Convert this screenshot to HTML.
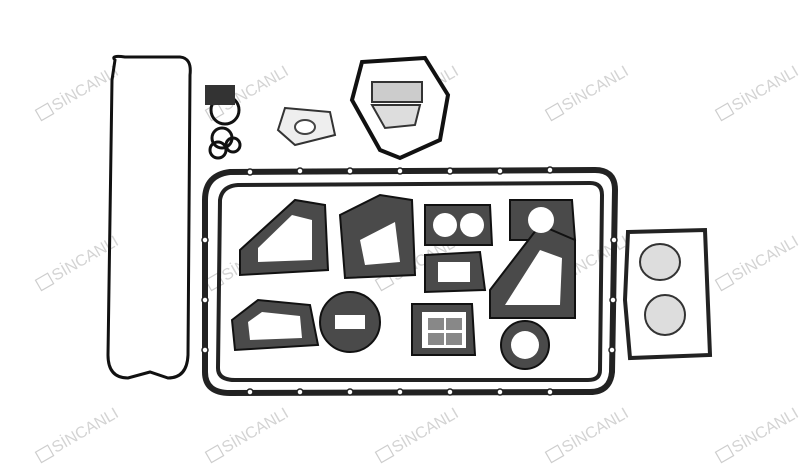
<!DOCTYPE html>
<html><head><meta charset="utf-8"><style>
html,body{margin:0;padding:0;background:#fff;width:800px;height:470px;overflow:hidden}
</style></head><body>
<svg width="800" height="470" viewBox="0 0 800 470" xmlns="http://www.w3.org/2000/svg">
<rect width="800" height="470" fill="#fff"/>
<defs>
<g id="wm">
<g transform="rotate(-30)">
<rect x="0" y="-9" width="14" height="12" fill="none" stroke="#c8c8c8" stroke-width="1.2"/>
<text x="17" y="2" font-family="Liberation Sans, sans-serif" font-size="16" fill="#cfcfcf">SİNCANLI</text>
</g>
</g>
</defs>
<g opacity="0.9">
<use href="#wm" x="40" y="118"/><use href="#wm" x="210" y="118"/><use href="#wm" x="380" y="118"/><use href="#wm" x="550" y="118"/><use href="#wm" x="720" y="118"/>
<use href="#wm" x="40" y="288"/><use href="#wm" x="210" y="288"/><use href="#wm" x="380" y="288"/><use href="#wm" x="550" y="288"/><use href="#wm" x="720" y="288"/>
<use href="#wm" x="40" y="460"/><use href="#wm" x="210" y="460"/><use href="#wm" x="380" y="460"/><use href="#wm" x="550" y="460"/><use href="#wm" x="720" y="460"/>
</g>
<!-- O-ring -->
<path d="M115 60 Q110 55 125 57 L180 57 Q192 58 190 75 L188 355 Q187 378 168 378 L150 372 L128 378 Q108 378 108 355 L112 80 Z" fill="none" stroke="#111" stroke-width="3"/>
<g fill="none" stroke="#111" stroke-width="3">
<circle cx="225" cy="110" r="14"/><circle cx="222" cy="138" r="10"/><circle cx="218" cy="150" r="8"/><circle cx="233" cy="145" r="7"/>
</g>
<rect x="205" y="85" width="30" height="20" fill="#333"/>
<path d="M285 108 L330 112 L335 135 L295 145 L278 130 Z" fill="#eee" stroke="#333" stroke-width="2"/>
<ellipse cx="305" cy="127" rx="10" ry="7" fill="#fff" stroke="#444" stroke-width="2"/>
<path d="M362 62 L425 58 L448 95 L440 140 L400 158 L380 150 L352 100 Z" fill="#fff" stroke="#111" stroke-width="4"/>
<rect x="372" y="82" width="50" height="20" fill="#ccc" stroke="#333" stroke-width="2"/>
<path d="M372 105 L420 105 L415 125 L385 128 Z" fill="#ddd" stroke="#333" stroke-width="2"/>
<path d="M230 172 L595 170 Q615 170 615 190 L612 372 Q610 392 590 392 L230 393 Q205 393 205 372 L205 200 Q205 175 230 172 Z" fill="none" stroke="#222" stroke-width="6"/>
<path d="M238 185 L590 183 Q602 183 602 195 L600 370 Q600 380 588 380 L235 380 Q218 380 218 368 L220 200 Q222 186 238 185 Z" fill="none" stroke="#222" stroke-width="4"/>
<g fill="#fff" stroke="#222" stroke-width="1.5">
<circle cx="250" cy="172" r="3"/><circle cx="300" cy="171" r="3"/><circle cx="350" cy="171" r="3"/><circle cx="400" cy="171" r="3"/><circle cx="450" cy="171" r="3"/><circle cx="500" cy="171" r="3"/><circle cx="550" cy="170" r="3"/>
<circle cx="250" cy="392" r="3"/><circle cx="300" cy="392" r="3"/><circle cx="350" cy="392" r="3"/><circle cx="400" cy="392" r="3"/><circle cx="450" cy="392" r="3"/><circle cx="500" cy="392" r="3"/><circle cx="550" cy="392" r="3"/>
<circle cx="205" cy="240" r="3"/><circle cx="205" cy="300" r="3"/><circle cx="205" cy="350" r="3"/><circle cx="614" cy="240" r="3"/><circle cx="613" cy="300" r="3"/><circle cx="612" cy="350" r="3"/>
</g>
<g fill="#4a4a4a" stroke="#111" stroke-width="2">
<path d="M240 250 L295 200 L325 205 L328 270 L240 275 Z"/>
<path d="M340 215 L380 195 L412 200 L415 275 L345 278 Z"/>
<path d="M425 205 L490 205 L492 245 L425 245 Z"/>
<path d="M510 200 L572 200 L575 240 L510 240 Z"/>
<path d="M425 255 L480 252 L485 290 L425 292 Z"/>
<path d="M490 290 L540 225 L575 240 L575 318 L490 318 Z"/>
<path d="M232 320 L258 300 L310 305 L318 345 L235 350 Z"/>
<circle cx="350" cy="322" r="30"/>
<path d="M412 304 L472 304 L475 355 L412 355 Z"/>
<circle cx="525" cy="345" r="24"/>
</g>
<g fill="#fff" stroke="none">
<path d="M258 248 L292 215 L312 220 L312 260 L258 262 Z"/>
<circle cx="445" cy="225" r="12"/><circle cx="472" cy="225" r="12"/>
<circle cx="541" cy="220" r="13"/>
<path d="M438 262 L470 262 L470 282 L438 282 Z"/>
<path d="M505 305 L540 250 L562 258 L560 305 Z"/>
<path d="M248 322 L262 312 L300 316 L302 338 L250 340 Z"/>
<rect x="335" y="315" width="30" height="14"/>
<rect x="422" y="312" width="44" height="36"/>
<circle cx="525" cy="345" r="14"/>
<path d="M360 240 L395 222 L400 262 L365 265 Z"/>
</g>
<g fill="#888"><rect x="428" y="318" width="16" height="12"/><rect x="446" y="318" width="16" height="12"/><rect x="428" y="333" width="16" height="12"/><rect x="446" y="333" width="16" height="12"/></g>
<path d="M628 232 L705 230 L710 355 L630 358 L625 300 Z" fill="#fff" stroke="#222" stroke-width="4"/>
<ellipse cx="660" cy="262" rx="20" ry="18" fill="#ddd" stroke="#333" stroke-width="2"/>
<ellipse cx="665" cy="315" rx="20" ry="20" fill="#ddd" stroke="#333" stroke-width="2"/>
</svg>
</body></html>
